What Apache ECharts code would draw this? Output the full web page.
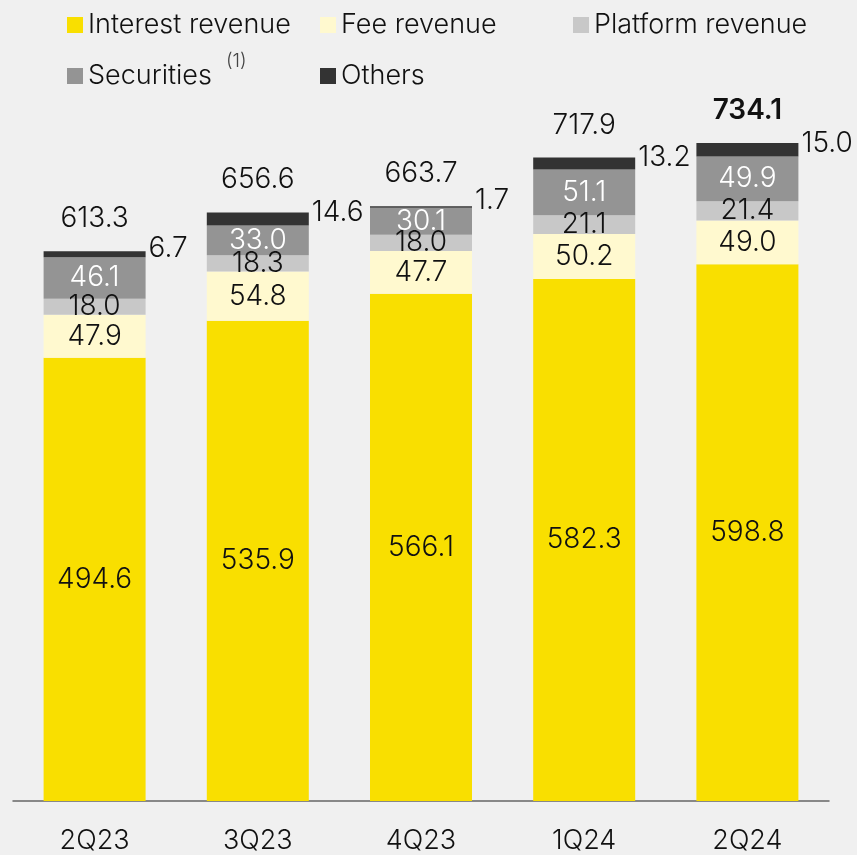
<!DOCTYPE html>
<html>
<head>
<meta charset="utf-8">
<script src="https://cdn.jsdelivr.net/npm/echarts@6/dist/echarts.min.js"></script>
<style>
    html, body { margin: 0; padding: 0; background: #f0f0f0; }
    #revenue-chart { width: 857px; height: 855px; }
</style>
</head>
<body>
<div id="revenue-chart"></div>
<script>
var quarters = ["2Q23", "3Q23", "4Q23", "1Q24", "2Q24"]
var interest_revenue = [494.6, 535.9, 566.1, 582.3, 598.8]
var fee_revenue = [47.9, 54.8, 47.7, 50.2, 49.0]
var platform_revenue = [18.0, 18.3, 18.0, 21.1, 21.4]
var securities = [46.1, 33.0, 30.1, 51.1, 49.9]
var others = [6.7, 14.6, 1.7, 13.2, 15.0]
var totals = [613.3, 656.6, 663.7, 717.9, 734.1]

var font = "Inter, 'Noto Sans', sans-serif"

var revenue_chart = document.getElementById("revenue-chart")
var myChart_revenue = echarts.init(revenue_chart)

function fmt(p) {
    return p.value.toFixed(1)
}

function barSeries(name, data, color, labelColor, extraLabel) {
    var label = {
        show: true,
        position: "inside",
        color: labelColor,
        fontFamily: font,
        fontWeight: 300,
        fontSize: 28,
        formatter: fmt
    }
    if (extraLabel) {
        label = Object.assign(label, extraLabel)
    }
    return {
        name: name,
        type: "bar",
        stack: "revenue",
        barWidth: 102,
        data: data,
        itemStyle: { color: color },
        label: label
    }
}

// last total is highlighted in the original
var totalData = totals.map(function (v, i) {
    if (i === totals.length - 1) {
        return { value: v, label: { fontWeight: 600 } }
    }
    return v
})

var option_revenue = {
    backgroundColor: "#f0f0f0",
    animation: false,
    legend: [
        {
            data: ["Interest revenue", "Fee revenue", "Platform revenue"],
            left: 67,
            top: 11,
            padding: 0,
            itemGap: 0,
            itemWidth: 16,
            itemHeight: 16,
            icon: "rect",
            selectedMode: false,
            textStyle: {
                fontFamily: font,
                fontWeight: 300,
                fontSize: 27,
                lineHeight: 28,
                color: "#111",
                width: 232
            }
        },
        {
            data: ["Securities", "Others"],
            left: 67,
            top: 52,
            padding: 0,
            itemGap: 0,
            itemWidth: 16,
            itemHeight: 16,
            icon: "rect",
            selectedMode: false,
            formatter: function (name) {
                if (name === "Securities") {
                    return "{s|Securities}{sup|(1)}"
                }
                return "{a|" + name + "}"
            },
            textStyle: {
                fontFamily: font,
                fontSize: 27,
                color: "#111",
                rich: {
                    s: {
                        fontFamily: font,
                        fontWeight: 300,
                        fontSize: 27,
                        lineHeight: 48,
                        color: "#111",
                        width: 138
                    },
                    a: {
                        fontFamily: font,
                        fontWeight: 300,
                        fontSize: 27,
                        lineHeight: 48,
                        color: "#111",
                        width: 232
                    },
                    sup: {
                        fontFamily: font,
                        fontWeight: 300,
                        fontSize: 19,
                        lineHeight: 19,
                        color: "#444",
                        verticalAlign: "top",
                        width: 94
                    }
                }
            }
        }
    ],
    grid: {
        left: 13,
        right: 28,
        top: 84,
        bottom: 52,
        containLabel: false
    },
    xAxis: {
        type: "category",
        data: quarters,
        axisTick: { show: false },
        axisLine: { lineStyle: { color: "#666", width: 1.5 } },
        axisLabel: {
            fontFamily: font,
            fontWeight: 300,
            fontSize: 27,
            lineHeight: 28,
            color: "#111",
            margin: 26
        }
    },
    yAxis: {
        type: "value",
        min: 0,
        max: 800,
        show: false,
        splitLine: { show: false }
    },
    series: [
        barSeries("Interest revenue", interest_revenue, "#f9df00", "#111"),
        barSeries("Fee revenue", fee_revenue, "#fff9cf", "#111"),
        barSeries("Platform revenue", platform_revenue, "#c8c8c8", "#111"),
        barSeries("Securities", securities, "#949494", "#fff"),
        barSeries("Others", others, "#333333", "#111", {
            position: "right",
            distance: 3,
            offset: [0, -6]
        }),
        {
            name: "Total",
            type: "line",
            data: totalData,
            symbol: "circle",
            symbolSize: 1,
            showSymbol: true,
            silent: true,
            z: 5,
            itemStyle: { color: "rgba(0,0,0,0)" },
            lineStyle: { width: 0, opacity: 0 },
            label: {
                show: true,
                position: "top",
                distance: 18,
                color: "#111",
                fontFamily: font,
                fontWeight: 300,
                fontSize: 28,
                formatter: fmt
            }
        }
    ]
}

myChart_revenue.setOption(option_revenue)
</script>
</body>
</html>
